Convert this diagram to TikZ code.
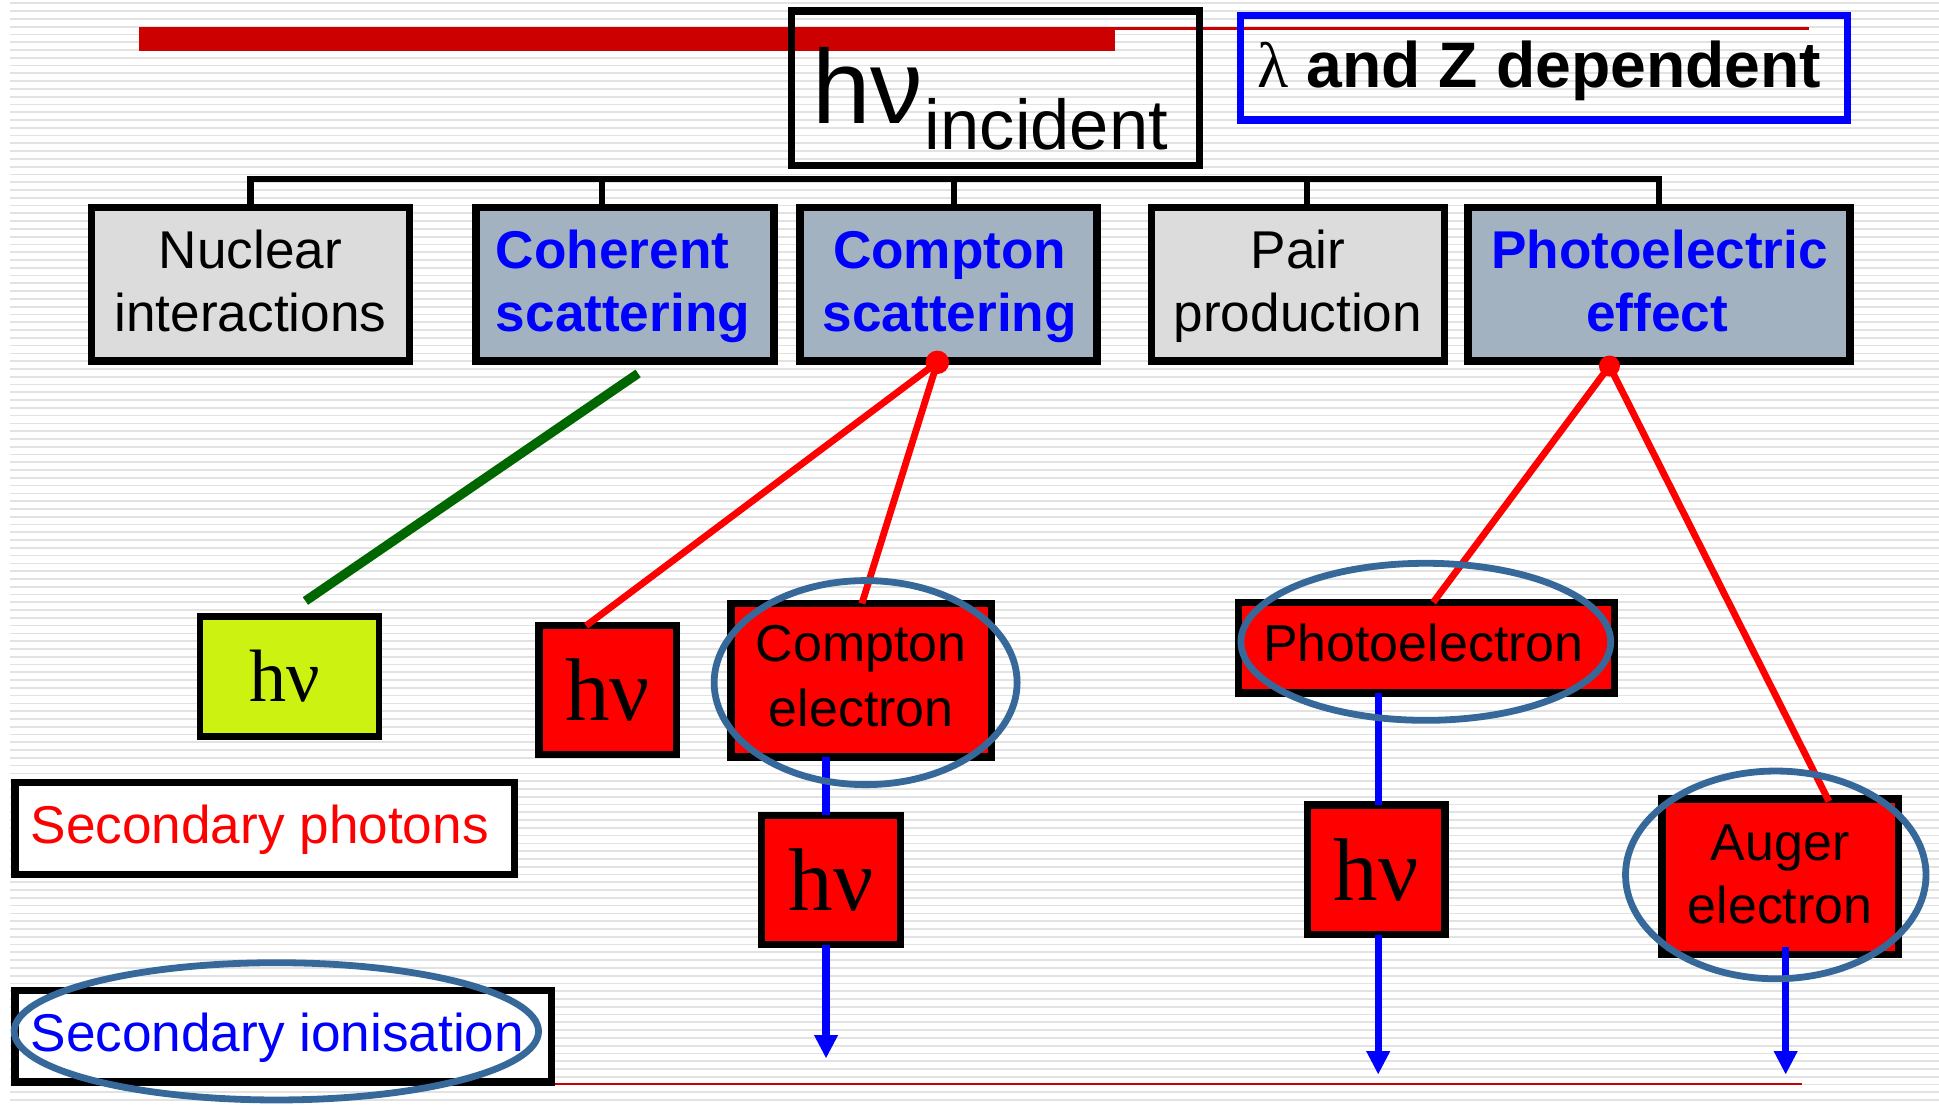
\documentclass[tikz,border=0pt]{standalone}
\usepackage{fontspec}
\setmainfont{Liberation Sans}
\newfontfamily\timesf{Liberation Serif}
\usetikzlibrary{arrows.meta,calc,shapes.geometric}
\definecolor{lgray}{RGB}{220,220,220}
\definecolor{bgray}{RGB}{163,178,193}
\definecolor{ygreen}{RGB}{204,242,18}
\definecolor{dgreen}{RGB}{0,102,0}
\definecolor{dred}{RGB}{204,0,0}
\definecolor{ellc}{RGB}{54,105,154}
\definecolor{stripec}{RGB}{226,226,226}
\newcommand{\fsz}[1]{\fontsize{#1}{#1}\selectfont}
\begin{document}
\begin{tikzpicture}[x=1pt,y=-1pt,
  box/.style={draw=black, line width=6pt, inner sep=0pt, outer sep=0pt, rectangle},
  lab/.style={inner sep=0pt, outer sep=0pt, anchor=base},
  labw/.style={inner sep=0pt, outer sep=0pt, anchor=base west},
  ell/.style={draw=ellc, line width=5.5pt, ellipse, inner sep=0pt},
  rl/.style={draw=red, line width=5.5pt},
  bl/.style={draw=blue, line width=6pt},
  blarrow/.style={bl, -{Triangle[length=19pt,width=18pt]}},
  bus/.style={draw=black, line width=5pt},
  t1/.style={font=\fsz{43}},
  t1b/.style={font=\bfseries\fsz{43}, text=blue},
  t2/.style={font=\fsz{42}},
  hvred/.style={box, fill=red, font=\timesf\fsz{72}}
]
\useasboundingbox (0,0) rectangle (1568,894.4);
\fill[white] (0,0) rectangle (1568,894.4);
\foreach \i in {0,...,142} {
  \fill[stripec] (8,{2.0+6.29*\i}) rectangle (1568,{3.4+6.29*\i});
}
% top decorative lines
\fill[dred] (112,21.6) rectangle (902,41);
\draw[dred, line width=2pt] (902,23) -- (1463,23);

% top boxes
\node[box, minimum width=330pt, minimum height=125pt] (hinc) at (805,71.5) {};
\node[labw, font=\fsz{85}] (hinct) at (657,100) {hν};
\node[labw, font=\fsz{57}] (hincs) at (748,121) {incident};
\node[box, draw=blue, minimum width=491pt, minimum height=84.5pt] (lz) at (1248.5,54.75) {};
\node[labw, font=\bfseries\fsz{52}] (lzt) at (1017,71) {{\timesf\mdseries λ} and Z dependent};

% level 1 boxes
\node[box, fill=lgray, minimum width=257pt, minimum height=124pt] (nuc) at (202.5,230) {};
\node[box, fill=bgray, minimum width=241pt, minimum height=124pt] (coh) at (505.5,230) {};
\node[box, fill=bgray, minimum width=240pt, minimum height=124pt] (com) at (767,230) {};
\node[box, fill=lgray, minimum width=237pt, minimum height=124pt] (pair) at (1049.5,230) {};
\node[box, fill=bgray, minimum width=309pt, minimum height=124pt] (pe) at (1341.5,230) {};

% bus
\coordinate (busy) at (0,145);
\draw[bus] (nuc.north) -- (nuc.north |- busy) -- (pe.north |- busy) -- (pe.north);
\draw[bus] ([xshift=-18.5pt]coh.north) -- ([xshift=-18.5pt]coh.north |- busy);
\draw[bus] ([xshift=4.5pt]com.north) -- ([xshift=4.5pt]com.north |- busy);
\draw[bus] ([xshift=7.5pt]pair.north) -- ([xshift=7.5pt]pair.north |- busy);

% level 1 texts
\node[lab, t1] (nuc1) at (202.5,217) {Nuclear};
\node[lab, t1] (nuc2) at (202.5,268) {interactions};
\node[labw, t1b] (coh1) at (401,217) {Coherent};
\node[labw, t1b] (coh2) at (401,268) {scattering};
\node[lab, t1b] (com1) at (768,217) {Compton};
\node[lab, t1b] (com2) at (768,268) {scattering};
\node[lab, t1] (pair1) at (1049.5,217) {Pair};
\node[lab, t1] (pair2) at (1049.5,268) {production};
\node[lab, t1b] (pe1) at (1342,217) {Photoelectric};
\node[lab, t1b] (pe2) at (1340,268) {effect};

% level 2 boxes
\node[box, line width=5pt, fill=ygreen, minimum width=145pt, minimum height=97pt, font=\timesf\fsz{60}] (hvg) at (234,547) {\hspace*{-8pt}hν};
\node[hvred, minimum width=111pt, minimum height=104pt] (hv1) at (491.5,558) {hν};
\node[box, fill=red, minimum width=211pt, minimum height=124pt] (ce) at (696.5,550) {};
\node[hvred, minimum width=112pt, minimum height=104.6pt] (hv2) at (672,711.7) {hν};
\node[box, fill=red, minimum width=304pt, minimum height=73.5pt] (phel) at (1153.5,523.8) {};
\node[hvred, minimum width=111pt, minimum height=105pt] (hv3) at (1113,703.3) {hν};
\node[box, fill=red, minimum width=191pt, minimum height=126pt] (aug) at (1439.5,709) {};
\node[box, fill=white, minimum width=403.7pt, minimum height=74pt] (sph) at (214,670) {};
\node[box, fill=white, minimum width=433.7pt, minimum height=74pt] (sion) at (229,838) {};

% level 2 texts
\node[lab, t2] (ce1) at (696.5,535) {Compton};
\node[lab, t2] (ce2) at (696.5,587.6) {electron};
\node[lab, t2] (phel1) at (1151,535) {Photoelectron};
\node[lab, t2] (aug1) at (1439.5,695.6) {Auger};
\node[lab, t2] (aug2) at (1439.5,747) {electron};
\node[labw, font=\fsz{43}, text=red] (sph1) at (24.7,682) {Secondary photons};
\node[labw, font=\fsz{43}, text=blue] (sion1) at (24.7,850.5) {Secondary ionisation};

% connectors
\draw[draw=dgreen, line width=7.5pt] ([xshift=10.5pt,yshift=-10pt]coh.south) -- ([xshift=13pt,yshift=12.5pt]hvg.north);
\node[circle, fill=red, inner sep=0pt, minimum size=19pt] (d1) at (758,293) {};
\node[circle, fill=red, inner sep=0pt, minimum size=17pt] (d2) at (1301.5,296) {};
\draw[rl] (d1.center) -- ([xshift=-17.5pt]hv1.north);
\draw[rl] (d1.center) -- ([xshift=0.5pt]ce.north);
\draw[rl] (d2.center) -- ([xshift=5.5pt]phel.north);
\draw[rl] (d2.center) -- ([xshift=39.5pt,yshift=-2pt]aug.north);

\draw[bl] ([xshift=-28.5pt]ce.south) -- ([xshift=-4pt]hv2.north);
\coordinate (a1) at (668,856);
\draw[blarrow] ([xshift=-4pt]hv2.south) -- (a1);
\draw[bl] ([xshift=-39pt]phel.south) -- ([xshift=1.5pt]hv3.north);
\coordinate (a2) at (1114.5,869);
\draw[blarrow] ([xshift=1.5pt]hv3.south) -- (a2);
\coordinate (a3) at (1444,869);
\draw[blarrow] ([xshift=4.5pt,yshift=6pt]aug.south) -- (a3);

% bottom thin red line
\coordinate (ul1) at (449,876.7);
\coordinate (ul2) at (1457,876.7);
\draw[dred, line width=1.6pt] (ul1) -- (ul2);

% ellipses
\node[ell, minimum width=245pt, minimum height=165pt] (e1) at (700,552) {};
\node[ell, minimum width=299pt, minimum height=127pt] (e2) at (1153,519) {};
\node[ell, minimum width=243pt, minimum height=168pt] (e3) at (1436,707.5) {};
\node[ell, minimum width=424pt, minimum height=111pt] (e4) at (223.5,834) {};
\end{tikzpicture}
\end{document}
